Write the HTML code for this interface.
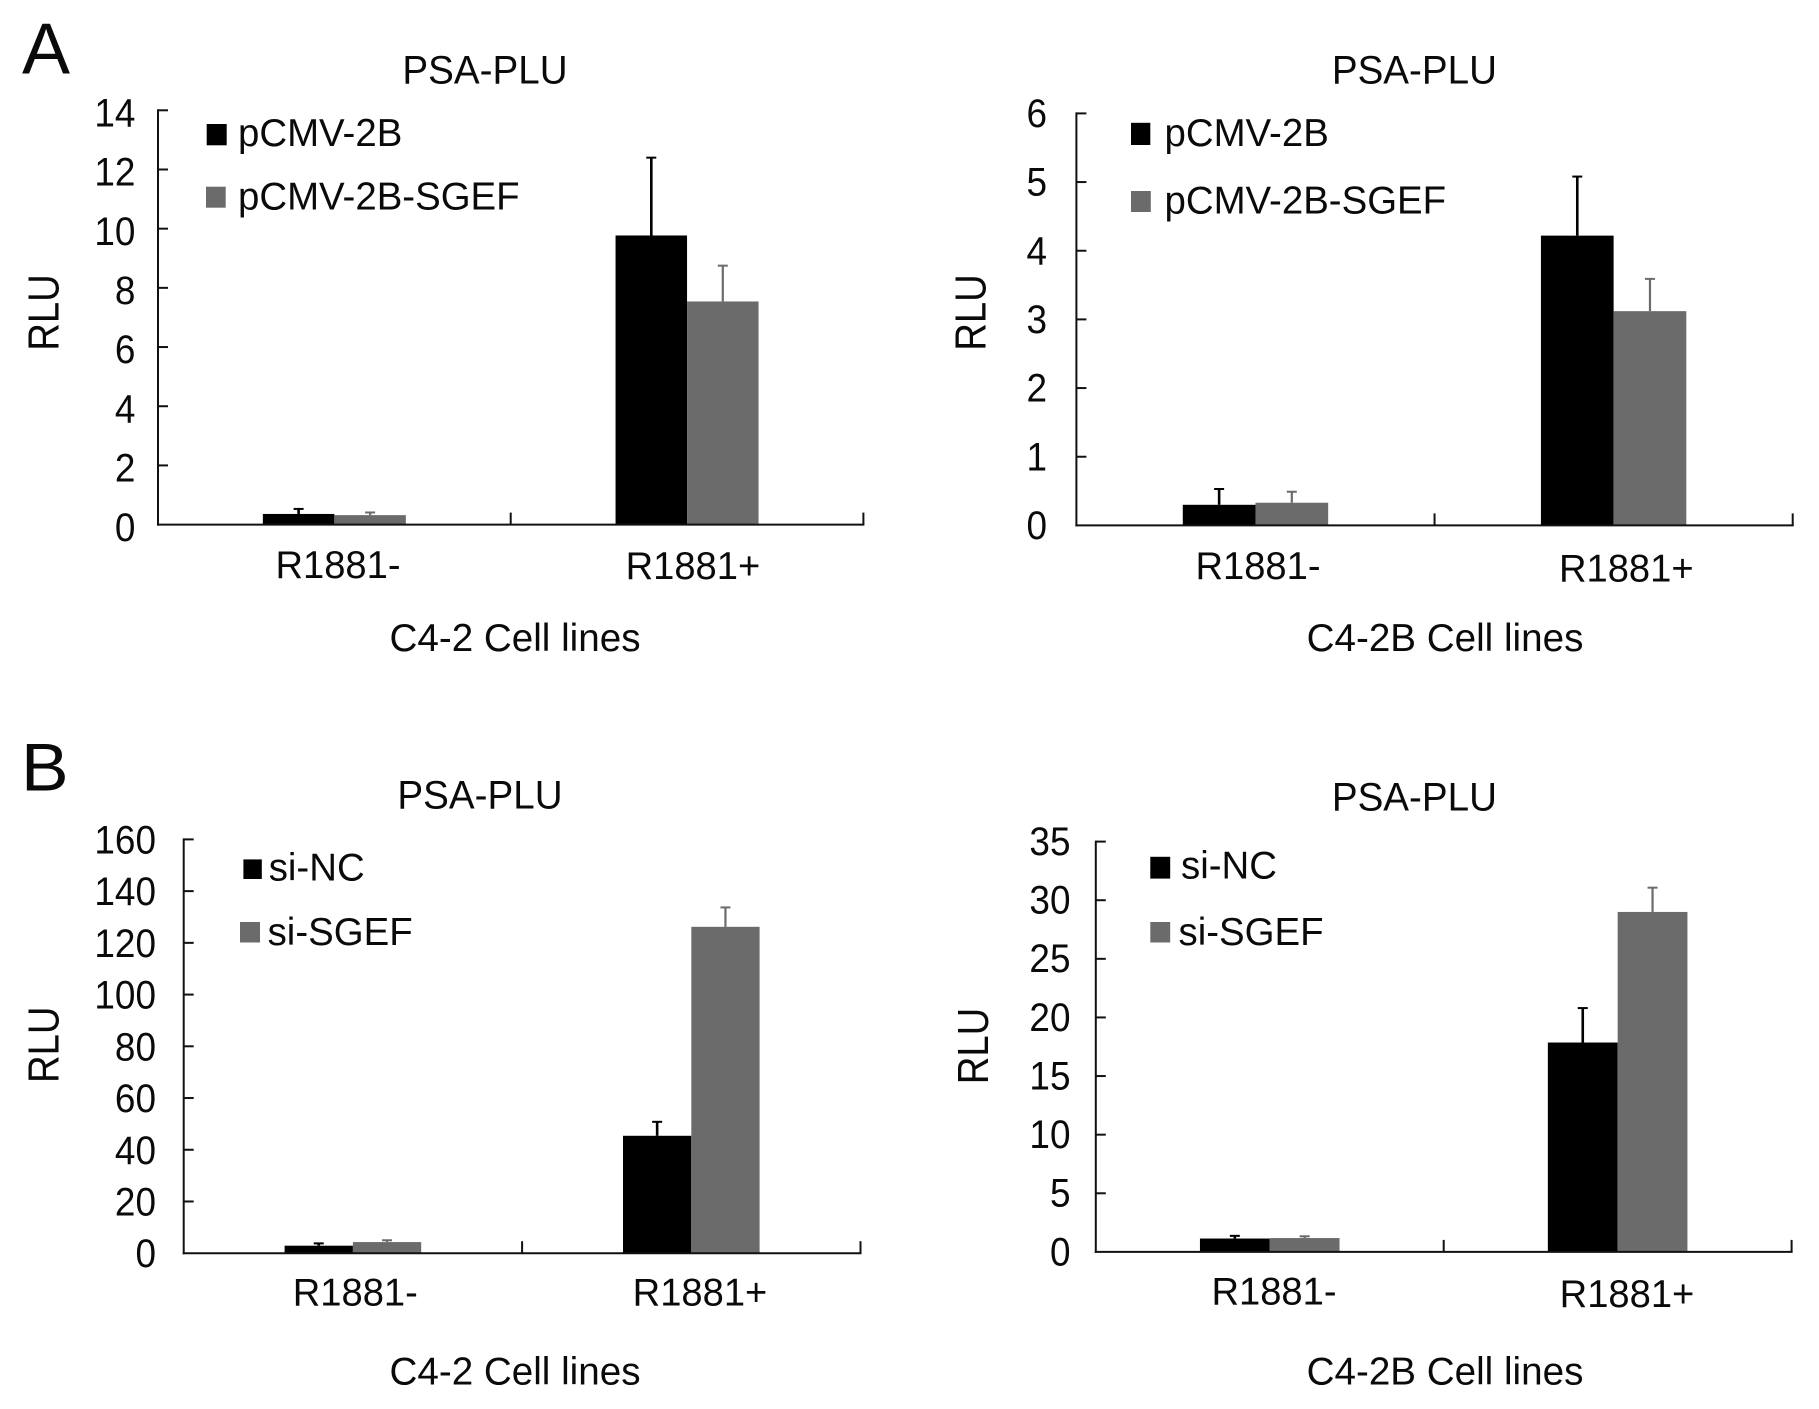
<!DOCTYPE html>
<html>
<head>
<meta charset="utf-8">
<title>PSA-PLU luciferase charts</title>
<style>
html,body{margin:0;padding:0;background:#fff;width:1819px;height:1409px;overflow:hidden}
svg{display:block}
text{font-family:"Liberation Sans",Arial,sans-serif;fill:#0a0a0a}
</style>
</head>
<body>
<svg id="figure" xmlns="http://www.w3.org/2000/svg" width="1819" height="1409" viewBox="0 0 1819 1409">
  <rect width="1819" height="1409" fill="#ffffff"/>
  <text x="22" y="73.7" font-size="72">A</text>
  <text transform="translate(21,790.7) scale(1.05,1)" font-size="68">B</text>
</svg>
<script>
// ---- chart data ----
const categories = ['R1881-', 'R1881+'];

const a1Legend = ['pCMV-2B', 'pCMV-2B-SGEF'];
const a1Ticks = [0, 2, 4, 6, 8, 10, 12, 14];
const a1Control = [0.36, 9.77];
const a1ControlErr = [0.17, 2.63];
const a1Treated = [0.32, 7.54];
const a1TreatedErr = [0.09, 1.21];

const a2Legend = ['pCMV-2B', 'pCMV-2B-SGEF'];
const a2Ticks = [0, 1, 2, 3, 4, 5, 6];
const a2Control = [0.30, 4.22];
const a2ControlErr = [0.23, 0.86];
const a2Treated = [0.33, 3.12];
const a2TreatedErr = [0.16, 0.47];

const b1Legend = ['si-NC', 'si-SGEF'];
const b1Ticks = [0, 20, 40, 60, 80, 100, 120, 140, 160];
const b1Control = [2.9, 45.4];
const b1ControlErr = [0.9, 5.4];
const b1Treated = [4.3, 126.2];
const b1TreatedErr = [0.7, 7.5];

const b2Legend = ['si-NC', 'si-SGEF'];
const b2Ticks = [0, 5, 10, 15, 20, 25, 30, 35];
const b2Control = [1.14, 17.86];
const b2ControlErr = [0.23, 2.94];
const b2Treated = [1.18, 29.0];
const b2TreatedErr = [0.15, 2.07];

// ---- layout (not data) ----
const BLACK = '#000000', GRAY = '#6b6b6b';
const panels = [
  { id:'a1', ticks:a1Ticks, control:a1Control, controlErr:a1ControlErr, treated:a1Treated, treatedErr:a1TreatedErr, legend:a1Legend,
    xTitle:'C4-2 Cell lines', x0:158, x1:863.4, yTop:110.3, yBase:524.6, barW:71.5,
    tickRight:135.4, tickDy:16.2, title:[485,83.5], rlu:[58.6,312.5],
    catPos:[[338,578],[692.9,579]], xTitlePos:[515,651],
    sw:[[206.7,124,20,21.3],[206,186.7,19.7,21]], lg:[[238,146],[238,209.5]] },
  { id:'a2', ticks:a2Ticks, control:a2Control, controlErr:a2ControlErr, treated:a2Treated, treatedErr:a2TreatedErr, legend:a2Legend,
    xTitle:'C4-2B Cell lines', x0:1076.4, x1:1792.7, yTop:113.4, yBase:525.4, barW:72.7,
    tickRight:1047, tickDy:13.6, title:[1414.4,83.5], rlu:[985.6,312.5],
    catPos:[[1258,579],[1626.3,581.3]], xTitlePos:[1445,651],
    sw:[[1131,122.8,19.3,22.2],[1131,191,19.8,21]], lg:[[1164.5,146],[1164.5,213.4]] },
  { id:'b1', ticks:b1Ticks, control:b1Control, controlErr:b1ControlErr, treated:b1Treated, treatedErr:b1TreatedErr, legend:b1Legend,
    xTitle:'C4-2 Cell lines', x0:183.7, x1:860.5, yTop:839.4, yBase:1253.2, barW:68.3,
    tickRight:156, tickDy:14, title:[480,808.5], rlu:[58.6,1044.7],
    catPos:[[355.3,1305.4],[700,1305.4]], xTitlePos:[515,1384.5],
    sw:[[243.4,859.4,18.4,19.6],[240,922,20,20.5]], lg:[[268.7,880.5],[267.6,945]] },
  { id:'b2', ticks:b2Ticks, control:b2Control, controlErr:b2ControlErr, treated:b2Treated, treatedErr:b2TreatedErr, legend:b2Legend,
    xTitle:'C4-2B Cell lines', x0:1095.8, x1:1791.6, yTop:841.6, yBase:1251.9, barW:69.8,
    tickRight:1070.5, tickDy:13.4, title:[1414.4,810.5], rlu:[988,1046],
    catPos:[[1274,1304.5],[1627,1307.2]], xTitlePos:[1445,1384.5],
    sw:[[1150.3,856.8,19.9,21.8],[1150.3,922,19.9,20.5]], lg:[[1181,878.3],[1178.5,945]] }
];

const SVGNS = 'http://www.w3.org/2000/svg';
const svg = document.getElementById('figure');

function make(parent, tag, attrs, content) {
  const el = document.createElementNS(SVGNS, tag);
  for (const k in attrs) el.setAttribute(k, attrs[k]);
  if (content !== undefined) el.textContent = content;
  parent.appendChild(el);
  return el;
}

function drawPanel(p) {
  const g = make(svg, 'g', {});
  
  

  const maxV = p.ticks[p.ticks.length - 1];
  const yScale = v => p.yBase - (v / maxV) * (p.yBase - p.yTop);
  const n = categories.length;
  const groupW = (p.x1 - p.x0) / n;
  const xCenter = i => p.x0 + (i + 0.5) * groupW;

  // Title
  const title = make(g, 'text', { transform:'translate(' + p.title[0] + ',' + p.title[1] + ') scale(0.965,1)', 'font-size':40, 'text-anchor':'middle' }, 'PSA-PLU');
  
  

  // Bars and error bars
  [[p.control, p.controlErr, BLACK, -1, 'control'], [p.treated, p.treatedErr, GRAY, 0, 'treated']].forEach(s => {
    s[0].forEach((v, i) => {
      const left = xCenter(i) + s[3] * p.barW;
      const cx = left + p.barW / 2;
      const top = yScale(v);
      const errTop = yScale(v + s[1][i]);

      const stem = make(g, 'line', { x1:cx, x2:cx, y1:top, y2:errTop, stroke:s[2], 'stroke-width':s[2] === BLACK ? 2.6 : 2.2 });
      
      

      const cap = make(g, 'line', { x1:cx - 5, x2:cx + 5, y1:errTop, y2:errTop, stroke:s[2], 'stroke-width':2 });
      
      

      const bar = make(g, 'rect', { x:left, y:top, width:p.barW, height:p.yBase - top, fill:s[2] });
      
      
    });
  });

  // Y axis
  const yAxis = make(g, 'line', { x1:p.x0, x2:p.x0, y1:p.yTop - 1, y2:p.yBase + 1, stroke:'#111', 'stroke-width':2 });
  
  

  p.ticks.forEach(t => {
    const y = yScale(t);
    if (t !== 0) {
      const tick = make(g, 'line', { x1:p.x0, x2:p.x0 + 10, y1:y, y2:y, stroke:'#111', 'stroke-width':2 });
      
      
    }
    const lab = make(g, 'text', { transform:'translate(' + p.tickRight + ',' + (y + p.tickDy) + ') scale(0.935,1)', 'font-size':39.5, 'text-anchor':'end' }, String(t));
    
    
  });

  // X axis
  const xAxis = make(g, 'line', { x1:p.x0 - 1, x2:p.x1 + 1, y1:p.yBase, y2:p.yBase, stroke:'#111', 'stroke-width':2 });
  
  

  for (let i = 1; i <= n; i++) {
    const x = p.x0 + i * groupW;
    const tick = make(g, 'line', { x1:x, x2:x, y1:p.yBase, y2:p.yBase - 12, stroke:'#111', 'stroke-width':2 });
    
    
  }

  categories.forEach((c, i) => {
    const lab = make(g, 'text', { transform:'translate(' + p.catPos[i][0] + ',' + p.catPos[i][1] + ') scale(0.978,1)', 'font-size':39, 'text-anchor':'middle' }, c);
    
    
  });

  // Axis titles
  const xt = make(g, 'text', { transform:'translate(' + p.xTitlePos[0] + ',' + p.xTitlePos[1] + ') scale(0.99,1)', 'font-size':39, 'text-anchor':'middle' }, p.xTitle);
  
  

  const yt = make(g, 'text', { transform:'translate(' + p.rlu[0] + ',' + p.rlu[1] + ') rotate(-90) scale(0.87,1)', 'font-size':44, 'text-anchor':'middle' }, 'RLU');
  
  

  // Legend
  p.legend.forEach((name, i) => {
    const sw = make(g, 'rect', { x:p.sw[i][0], y:p.sw[i][1], width:p.sw[i][2], height:p.sw[i][3], fill:i === 0 ? BLACK : GRAY });
    
    

    const t = make(g, 'text', { transform:'translate(' + p.lg[i][0] + ',' + p.lg[i][1] + ') scale(0.985,1)', 'font-size':39 }, name);
    
    
  });
}

panels.forEach(drawPanel);
</script>
</body>
</html>
